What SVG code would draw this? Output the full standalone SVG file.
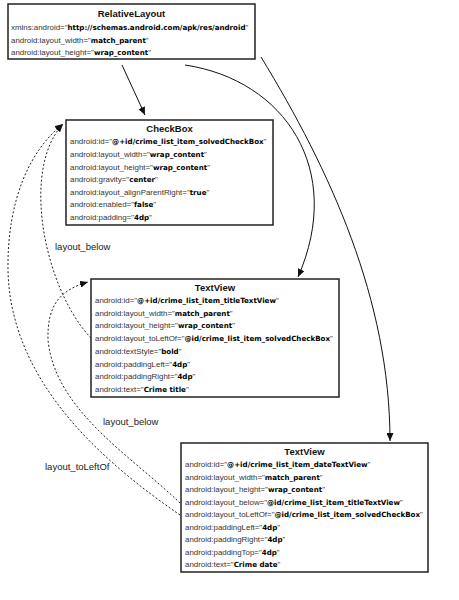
<svg xmlns="http://www.w3.org/2000/svg" width="459" height="600" viewBox="0 0 459 600">
<style>
.box{fill:#fff;stroke:#222;stroke-width:1.5}
.t{font-family:"Liberation Sans",Arial,sans-serif;font-weight:bold;font-size:9.5px;text-anchor:middle;fill:#111}
.r{font-family:"Liberation Sans",Arial,sans-serif;font-size:7.9px;fill:#333}
.b{font-family:"DejaVu Sans",Verdana,sans-serif;font-weight:bold;font-size:7.1px;fill:#000}
.lbl{font-family:"Liberation Sans",Arial,sans-serif;font-size:9.5px;fill:#222}
.c{fill:none;stroke:#111;stroke-width:1;marker-end:url(#ah)}
.d{fill:none;stroke:#222;stroke-width:1;stroke-dasharray:2,2;marker-end:url(#ah)}
</style>
<defs>
<marker id="ah" markerUnits="userSpaceOnUse" markerWidth="9" markerHeight="7" refX="8" refY="3.5" orient="auto">
<path d="M0,0 L8,3.5 L0,7 z" fill="#111"/>
</marker>
</defs>
<rect width="459" height="600" fill="#fff"/>
<g id="connectors">
<path class="c" d="M122,65 L145,115"/>
<path class="c" d="M185,65 C285,80 345,170 298,277"/>
<path class="c" d="M261,57 C330,170 390,300 390,441"/>
<path class="d" d="M91,338 C45,290 20,170 63,124"/>
<path class="d" d="M180,515 C100,460 10,380 8,270 C7,200 30,150 63,124"/>
<path class="d" d="M180,503 C130,455 55,410 48,340 C47,305 60,290 88,282"/>
</g>
<g id="labels">
<text class="lbl" x="55" y="250">layout_below</text>
<text class="lbl" x="103" y="425">layout_below</text>
<text class="lbl" x="45" y="470">layout_toLeftOf</text>
</g>
<g id="relativelayout">
<rect class="box" x="8" y="4" width="247" height="55"/>
<text class="t" x="131.5" y="16.5">RelativeLayout</text>
<text class="r" x="11" y="30">xmlns:android="<tspan class="b">http://schemas.android.com/apk/res/android</tspan>"</text>
<text class="r" x="11" y="43">android:layout_width="<tspan class="b">match_parent</tspan>"</text>
<text class="r" x="11" y="55">android:layout_height="<tspan class="b">wrap_content</tspan>"</text>
</g>
<g id="checkbox">
<rect class="box" x="66" y="120" width="207" height="105"/>
<text class="t" x="169.5" y="131.5">CheckBox</text>
<text class="r" x="70" y="144">android:id="<tspan class="b">@+id/crime_list_item_solvedCheckBox</tspan>"</text>
<text class="r" x="70" y="157">android:layout_width="<tspan class="b">wrap_content</tspan>"</text>
<text class="r" x="70" y="170">android:layout_height="<tspan class="b">wrap_content</tspan>"</text>
<text class="r" x="70" y="182">android:gravity="<tspan class="b">center</tspan>"</text>
<text class="r" x="70" y="195">android:layout_alignParentRight="<tspan class="b">true</tspan>"</text>
<text class="r" x="70" y="207">android:enabled="<tspan class="b">false</tspan>"</text>
<text class="r" x="70" y="220">android:padding="<tspan class="b">4dp</tspan>"</text>
</g>
<g id="titletextview">
<rect class="box" x="91" y="279" width="248" height="118"/>
<text class="t" x="215" y="290.5">TextView</text>
<text class="r" x="95" y="303">android:id="<tspan class="b">@+id/crime_list_item_titleTextView</tspan>"</text>
<text class="r" x="95" y="316">android:layout_width="<tspan class="b">match_parent</tspan>"</text>
<text class="r" x="95" y="328">android:layout_height="<tspan class="b">wrap_content</tspan>"</text>
<text class="r" x="95" y="341">android:layout_toLeftOf="<tspan class="b">@id/crime_list_item_solvedCheckBox</tspan>"</text>
<text class="r" x="95" y="354">android:textStyle="<tspan class="b">bold</tspan>"</text>
<text class="r" x="95" y="367">android:paddingLeft="<tspan class="b">4dp</tspan>"</text>
<text class="r" x="95" y="379">android:paddingRight="<tspan class="b">4dp</tspan>"</text>
<text class="r" x="95" y="392">android:text="<tspan class="b">Crime title</tspan>"</text>
</g>
<g id="datetextview">
<rect class="box" x="181" y="443" width="247" height="129"/>
<text class="t" x="304.5" y="454.5">TextView</text>
<text class="r" x="185" y="467">android:id="<tspan class="b">@+id/crime_list_item_dateTextView</tspan>"</text>
<text class="r" x="185" y="480">android:layout_width="<tspan class="b">match_parent</tspan>"</text>
<text class="r" x="185" y="492">android:layout_height="<tspan class="b">wrap_content</tspan>"</text>
<text class="r" x="185" y="505">android:layout_below="<tspan class="b">@id/crime_list_item_titleTextView</tspan>"</text>
<text class="r" x="185" y="517">android:layout_toLeftOf="<tspan class="b">@id/crime_list_item_solvedCheckBox</tspan>"</text>
<text class="r" x="185" y="530">android:paddingLeft="<tspan class="b">4dp</tspan>"</text>
<text class="r" x="185" y="542">android:paddingRight="<tspan class="b">4dp</tspan>"</text>
<text class="r" x="185" y="555">android:paddingTop="<tspan class="b">4dp</tspan>"</text>
<text class="r" x="185" y="567">android:text="<tspan class="b">Crime date</tspan>"</text>
</g>
</svg>
